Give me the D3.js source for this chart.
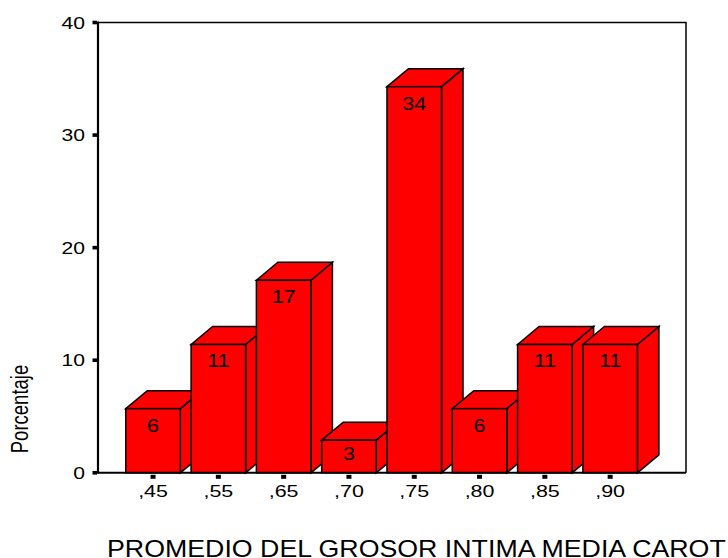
<!DOCTYPE html>
<html>
<head>
<meta charset="utf-8">
<script src="https://cdn.jsdelivr.net/npm/d3@7"></script>
<style>
  html, body { margin: 0; padding: 0; background: #fff; overflow: hidden; }
  svg { display: block; font-family: "Liberation Sans", Arial, sans-serif; }
</style>
</head>
<body>
<script>
// Category labels (class marks of the averaged intima-media thickness)
const categories = [",45", ",55", ",65", ",70", ",75", ",80", ",85", ",90"];
// Percentage of cases in each class (n = 35)
const percentages = [5.7, 11.4, 17.1, 2.9, 34.3, 5.7, 11.4, 11.4];
// Y axis tick values
const yTicks = [0, 10, 20, 30, 40];
const yLabel = "Porcentaje";
const xLabel = "PROMEDIO DEL GROSOR INTIMA MEDIA CAROT";

const W = 728, H = 558;
const frame = { left: 98, right: 686, top: 22.5, bottom: 472.8 };
const depthX = 21.5, depthY = 18;
const barFill = "#ff0000";

const svg = d3.select("body").append("svg")
  .attr("width", W).attr("height", H);

const x = d3.scaleBand()
  .domain(categories)
  .range([120.4, 642.8])
  .paddingInner(0.165)
  .paddingOuter(0.0825);

const y = d3.scaleLinear()
  .domain([0, 40])
  .range([frame.bottom, frame.top]);

// Stretched text helper: SPSS-style wide lettering
function stretchedText(g, tx, ty, str, size, sx, anchor) {
  return g.append("text")
    .attr("transform", `translate(${tx},${ty}) scale(${sx},1)`)
    .attr("text-anchor", anchor)
    .attr("font-size", size)
    .attr("fill", "#000")
    .text(str);
}

// Plot frame (top and right edges)
svg.append("path")
  .attr("d", `M${frame.left},${frame.top}H${frame.right}V${frame.bottom}`)
  .attr("fill", "none").attr("stroke", "#000").attr("stroke-width", 1.5);

// 3D bars, drawn left to right so each bar overlaps the side of the previous one
const data = categories.map((c, i) => ({ cat: c, value: percentages[i] }));
const bars = svg.append("g").attr("stroke", "#000").attr("stroke-width", 1.5)
  .attr("stroke-linejoin", "miter");

data.forEach(d => {
  const x0 = x(d.cat), x1 = x0 + x.bandwidth();
  const yt = y(d.value), yb = y(0);
  const g = bars.append("g");
  // side face
  g.append("path")
    .attr("d", `M${x1},${yb}L${x1 + depthX},${yb - depthY}L${x1 + depthX},${yt - depthY}L${x1},${yt}Z`)
    .attr("fill", barFill);
  // top face
  g.append("path")
    .attr("d", `M${x0},${yt}L${x0 + depthX},${yt - depthY}L${x1 + depthX},${yt - depthY}L${x1},${yt}Z`)
    .attr("fill", barFill);
  // front face
  g.append("rect")
    .attr("x", x0).attr("y", yt)
    .attr("width", x.bandwidth()).attr("height", yb - yt)
    .attr("fill", barFill);
  // value label
  const cx = x0 + x.bandwidth() / 2;
  const by = Math.min(yt + 23, (yt + yb) / 2 + 4);
  stretchedText(g.append("g").attr("stroke", "none"), cx, by,
    d3.format(".0f")(d.value), 18, 1.2, "middle");
});

// Left axis line and bottom axis line
svg.append("line")
  .attr("x1", frame.left).attr("x2", frame.left)
  .attr("y1", frame.top - 1).attr("y2", frame.bottom + 1)
  .attr("stroke", "#000").attr("stroke-width", 2.2);
svg.append("line")
  .attr("x1", frame.left).attr("x2", frame.right)
  .attr("y1", frame.bottom).attr("y2", frame.bottom)
  .attr("stroke", "#000").attr("stroke-width", 2);

// Y ticks: small square markers with labels
const yAxis = svg.append("g");
yTicks.forEach(t => {
  yAxis.append("rect")
    .attr("x", frame.left - 5.5).attr("y", y(t) - 1.8)
    .attr("width", 4.5).attr("height", 3.6).attr("fill", "#000");
  stretchedText(yAxis, 85, y(t) + 6.2, d3.format("d")(t), 16.5, 1.28, "end");
});

// X ticks: square markers under each bar with category labels
const xAxis = svg.append("g");
categories.forEach(c => {
  const cx = x(c) + x.bandwidth() / 2;
  xAxis.append("rect")
    .attr("x", cx - 2.5).attr("y", frame.bottom + 2)
    .attr("width", 5).attr("height", 4).attr("fill", "#000");
  stretchedText(xAxis, cx, 497, c, 16.5, 1.3, "middle");
});

// Axis titles
svg.append("text")
  .attr("transform", "translate(27.5,409) rotate(-90) scale(1,1.25)")
  .attr("text-anchor", "middle")
  .attr("font-size", 18.5)
  .text(yLabel);

stretchedText(svg, 107, 557, xLabel, 24, 1.115, "start");
</script>
</body>
</html>
